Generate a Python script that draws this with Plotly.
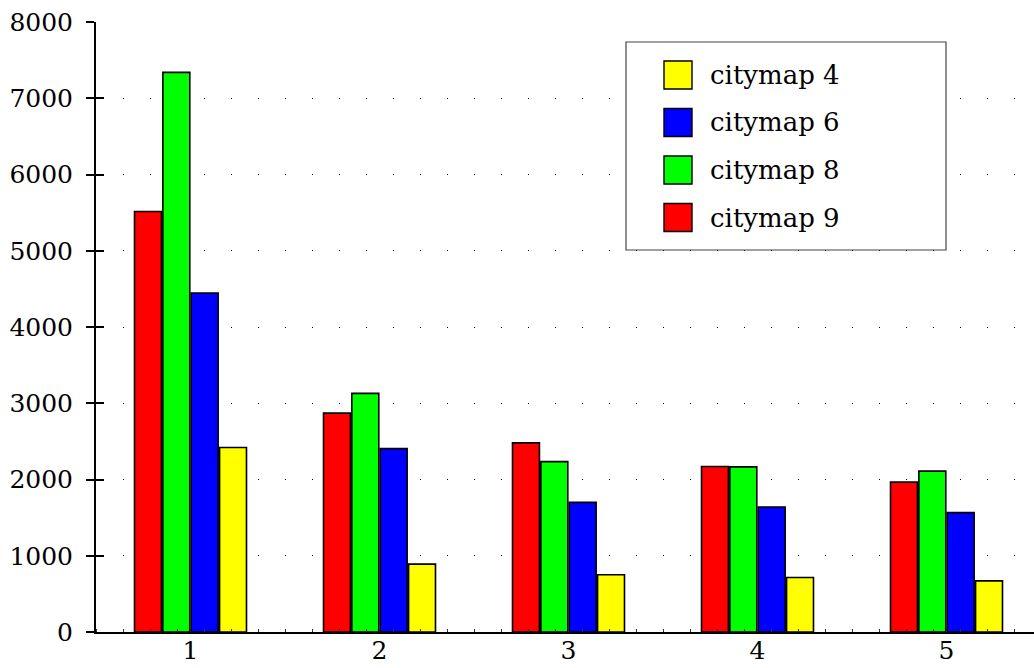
import plotly.graph_objects as go

# Data: four city maps, five groups each
groups = [1, 2, 3, 4, 5]
series_names = ["citymap 9", "citymap 8", "citymap 6", "citymap 4"]
citymap9 = [5515, 2870, 2480, 2170, 1965]
citymap8 = [7340, 3130, 2235, 2165, 2110]
citymap6 = [4445, 2405, 1700, 1640, 1565]
citymap4 = [2420, 890, 750, 715, 670]
series_values = [citymap9, citymap8, citymap6, citymap4]
series_colors = ["#ff0000", "#00ff00", "#0000ff", "#ffff00"]
y_ticks = [0, 1000, 2000, 3000, 4000, 5000, 6000, 7000, 8000]

FONT = "DejaVu Serif"
FS_TICK = 25
FS_LEG = 26

W, H = 1034, 668
ML, MR, MT, MB = 96, 0, 22, 36
PW, PH = W - ML - MR, H - MT - MB
GROUP_PX = 189  # pixel distance between group centres

fig = go.Figure()
for name, vals, col in zip(series_names, series_values, series_colors):
    fig.add_trace(go.Bar(
        x=groups, y=vals, name=name,
        marker=dict(color=col, line=dict(color="black", width=1.6)),
        showlegend=False,
    ))

# Empty trace that carries the inward half of the y ticks
fig.add_trace(go.Scatter(x=[], y=[], yaxis="y2", showlegend=False, hoverinfo="skip"))

x_hi = 0.5 + PW / GROUP_PX

fig.update_layout(
    width=W, height=H,
    margin=dict(l=ML, r=MR, t=MT, b=MB, pad=0, autoexpand=False),
    paper_bgcolor="white", plot_bgcolor="white",
    barmode="group", bargap=0.4, bargroupgap=0.05,
    font=dict(family=FONT, size=FS_TICK, color="black"),
    xaxis=dict(
        range=[0.5, x_hi], tickvals=groups, ticktext=[str(g) for g in groups],
        automargin=False,
        showgrid=False, zeroline=False,
        showline=True, linecolor="black", linewidth=2,
        ticks="", ticklabelstandoff=-5,
        minor=dict(tick0=0.5, dtick=1 / 7, ticks="inside", ticklen=3,
                   tickwidth=1, tickcolor="#333", showgrid=False),
        tickfont=dict(family=FONT, size=FS_TICK, color="black"),
    ),
    yaxis=dict(
        range=[0, 8000], tickvals=y_ticks, ticktext=[str(v) for v in y_ticks],
        automargin=False,
        showgrid=True, gridcolor="black", gridwidth=1.4, griddash="1.4px,25.6px",
        zeroline=False,
        showline=True, linecolor="black", linewidth=2,
        ticks="outside", ticklen=8, tickwidth=2, tickcolor="black",
        ticklabelstandoff=8,
        tickfont=dict(family=FONT, size=FS_TICK, color="black"),
    ),
    yaxis2=dict(
        range=[0, 8000], overlaying="y", side="left", tickvals=y_ticks,
        automargin=False,
        showticklabels=False, showgrid=False, zeroline=False, showline=False,
        ticks="inside", ticklen=8, tickwidth=2, tickcolor="black",
    ),
)

# Legend box drawn in paper coordinates (pixel layout converted to fractions)
def px_x(p):
    return (p - ML) / PW

def px_y(p):
    return (H - MB - p) / PH

box = dict(x0=626, x1=946, y0=42, y1=250)
fig.add_shape(type="rect", xref="paper", yref="paper",
              x0=px_x(box["x0"]), x1=px_x(box["x1"]),
              y0=px_y(box["y1"]), y1=px_y(box["y0"]),
              line=dict(color="#444", width=1.2), fillcolor="white", layer="above")

legend_order = list(reversed(range(len(series_names))))
first_cy, step = 75, 47.5
sw_x0, sw_x1, sw_half = 664, 692, 14
for i, idx in enumerate(legend_order):
    cy = first_cy + i * step
    fig.add_shape(type="rect", xref="paper", yref="paper",
                  x0=px_x(sw_x0), x1=px_x(sw_x1),
                  y0=px_y(cy + sw_half), y1=px_y(cy - sw_half),
                  line=dict(color="black", width=1.4),
                  fillcolor=series_colors[idx], layer="above")
    fig.add_annotation(xref="paper", yref="paper", x=px_x(708), y=px_y(cy),
                       text=series_names[idx], showarrow=False,
                       xanchor="left", yanchor="middle",
                       font=dict(family=FONT, size=FS_LEG, color="black"))

fig.write_html("out.html")
